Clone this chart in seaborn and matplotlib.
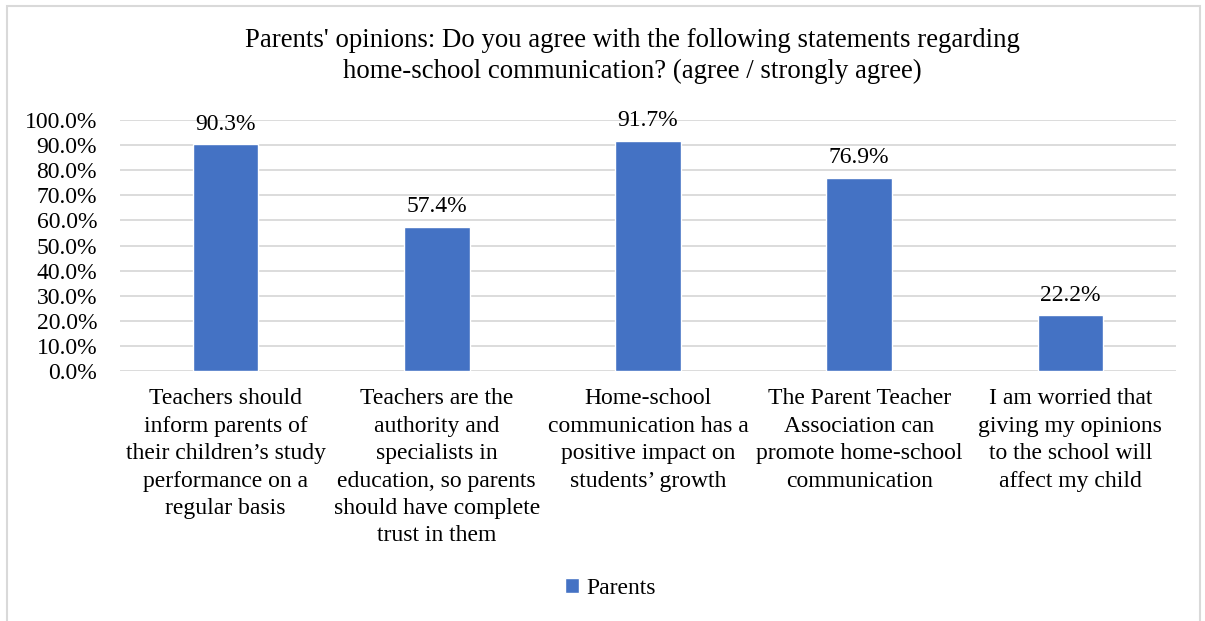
import matplotlib
matplotlib.use("Agg")
import matplotlib.pyplot as plt
import seaborn as sns
from matplotlib.ticker import PercentFormatter
from matplotlib.patches import Rectangle

categories = [
    "Teachers should\ninform parents of\ntheir children\u2019s study\nperformance on a\nregular basis",
    "Teachers are the\nauthority and\nspecialists in\neducation, so parents\nshould have complete\ntrust in them",
    "Home-school\ncommunication has a\npositive impact on\nstudents\u2019 growth",
    "The Parent Teacher\nAssociation can\npromote home-school\ncommunication",
    "I am worried that\ngiving my opinions\nto the school will\naffect my child",
]
values = [90.3, 57.4, 91.7, 76.9, 22.2]
series_name = "Parents"
title = ("Parents' opinions: Do you agree with the following statements regarding\n"
         "home-school communication? (agree / strongly agree)")

sns.set_theme(style="white")
plt.rcParams['font.family'] = ['Liberation Serif', 'DejaVu Serif']
plt.rcParams['text.color'] = 'black'

FS = 17
fig = plt.figure(figsize=(12.05, 6.21), dpi=100)
ax = fig.add_axes([120/1205, 1-371/621, (1176-120)/1205, (371-120)/621])

sns.barplot(x=categories, y=values, color="#4472C4", width=0.31, ax=ax,
            label=series_name, saturation=1)
ax.set_ylim(0, 100)
ax.set_xlim(-0.5, len(categories)-0.5)
ax.set_yticks(range(0, 101, 10))
ax.yaxis.set_major_formatter(PercentFormatter(decimals=1))
ax.grid(axis='y', color="#D9D9D9", linewidth=1.3)
ax.set_axisbelow(True)
for s in ax.spines.values():
    s.set_visible(False)
ax.tick_params(axis='both', length=0, labelsize=FS, colors='black')
ax.tick_params(axis='y', pad=16.5)
ax.tick_params(axis='x', pad=12.5)
for lbl in ax.get_xticklabels():
    lbl.set_linespacing(1.4)
ax.set_xlabel("")
ax.set_ylabel("")

for c in ax.containers:
    ax.bar_label(c, labels=[f"{v:.1f}%" for v in values], padding=7, fontsize=FS, color='black')

fig.text(632/1205, 1-56/621, title, ha='center', va='center', fontsize=19.3, linespacing=1.3,
         color='black')

leg = ax.legend(loc='center', bbox_to_anchor=(610/1205, 1-588/621), bbox_transform=fig.transFigure,
                frameon=False, fontsize=FS, handlelength=0.6, handleheight=0.6, handletextpad=0.3,
                labelcolor='black')

fig.patches.append(Rectangle((7/1205, -0.01), (1200-7)/1205, 1.01-6/621, transform=fig.transFigure,
                             fill=False, edgecolor="#D9D9D9", linewidth=1.5))

fig.savefig("out.png", dpi=100)
